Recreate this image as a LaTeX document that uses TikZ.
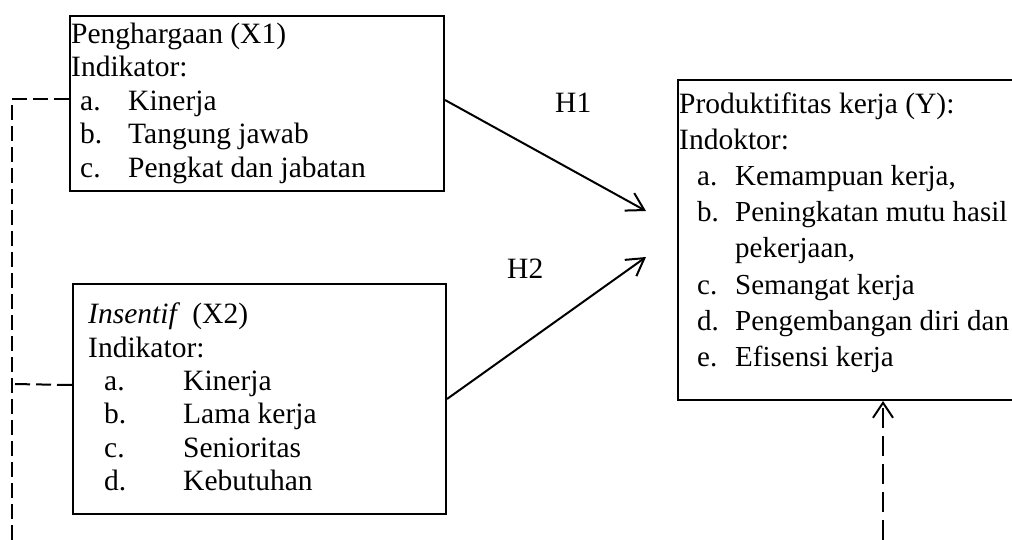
\documentclass[tikz,border=0pt]{standalone}
\usepackage{fontspec}
\setmainfont{Liberation Serif}
\usetikzlibrary{arrows.meta}
\begin{document}
\begin{tikzpicture}[x=1pt,y=-1pt,
  box/.style={draw, line width=2pt, rectangle, inner sep=0pt, anchor=north west},
  txt/.style={anchor=base west, inner sep=0pt, font=\fontsize{29.5}{34}\selectfont},
  txty/.style={anchor=base west, inner sep=0pt, font=\fontsize{29}{34}\selectfont},
  arr/.style={line width=2pt, -{Straight Barb[length=17pt,width=20pt,line width=2pt]}},
  dashL/.style={line width=2pt, dash pattern=on 15pt off 6pt},
  dashR/.style={line width=2pt, dash pattern=on 20pt off 8pt, -{Straight Barb[length=15pt,width=20pt,line width=2pt]}}
]
\useasboundingbox (0,0) rectangle (1012,540);
\clip (0,0) rectangle (1012,540);

% boxes
\node[box, minimum width=374pt, minimum height=175pt] (x1) at (69,15) {};
\node[box, minimum width=373pt, minimum height=230pt] (x2) at (72,283) {};
\node[box, minimum width=363pt, minimum height=320pt] (y) at (677,79) {};

% box 1 text
\node[txt] (x1t) at (71,43.5) {Penghargaan (X1)};
\node[txt] (x1i) at (71,77) {Indikator:};
\node[txt] (x1a) at (80,110.5) {a.};
\node[txt] (x1at) at (128,110.5) {Kinerja};
\node[txt] (x1b) at (80,144) {b.};
\node[txt] (x1bt) at (128,144) {Tangung jawab};
\node[txt] (x1c) at (80,177.5) {c.};
\node[txt] (x1ct) at (128,177.5) {Pengkat dan jabatan};

% box 2 text
\node[txt] (x2t) at (88,323) {\textit{Insentif}\, (X2)};
\node[txt] (x2i) at (88,357) {Indikator:};
\node[txt] (x2a) at (104,390) {a.};
\node[txt] (x2at) at (183,390) {Kinerja};
\node[txt] (x2b) at (104,423.5) {b.};
\node[txt] (x2bt) at (183,423.5) {Lama kerja};
\node[txt] (x2c) at (104,457) {c.};
\node[txt] (x2ct) at (183,457) {Senioritas};
\node[txt] (x2d) at (104,490) {d.};
\node[txt] (x2dt) at (183,490) {Kebutuhan};

% box Y text
\node[txt] (yt) at (679,114) {Produktifitas kerja (Y):};
\node[txt] (yi) at (679,150) {Indoktor:};
\node[txty] (ya) at (697,186) {a.};
\node[txty] (yat) at (735,186) {Kemampuan kerja,};
\node[txty] (yb) at (697,222) {b.};
\node[txty] (ybt) at (735,222) {Peningkatan mutu hasil};
\node[txty] (ybt2) at (735,258) {pekerjaan,};
\node[txty] (yc) at (697,294) {c.};
\node[txty] (yct) at (735,294) {Semangat kerja};
\node[txty] (yd) at (697,330) {d.};
\node[txty] (ydt) at (735,330) {Pengembangan diri dan};
\node[txty] (ye) at (697,366) {e.};
\node[txty] (yet) at (735,366) {Efisensi kerja};

% hypothesis labels
\node[txt] (h1) at (555,113) {H1};
\node[txt] (h2) at (507,278) {H2};

% connectors
\coordinate (h1e) at (646,211);
\coordinate (h2e) at (646,257);
\draw[arr] ([yshift=3.5pt]x1.east) -- (h1e);
\draw[arr] (x2.east) -- (h2e);

\coordinate (lb) at (12,540);
\coordinate (j2) at (12,384);
\draw[dashL] ([yshift=4.5pt]x1.west) -| (lb);
\draw[dashL] ([yshift=14pt]x2.west) -- (j2);

\coordinate (ry) at (883,540);
\draw[dashR] (ry) -- (ry |- y.south);
\end{tikzpicture}
\end{document}
